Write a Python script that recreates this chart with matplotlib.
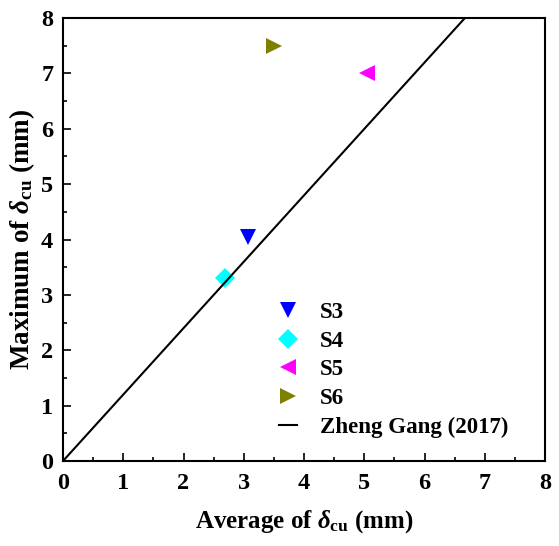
import matplotlib
matplotlib.use("Agg")
import matplotlib.pyplot as plt
from matplotlib.ticker import MultipleLocator

plt.rcParams['font.family'] = ['Liberation Serif', 'DejaVu Serif']
plt.rcParams['font.weight'] = 'bold'
plt.rcParams['mathtext.fontset'] = 'custom'
plt.rcParams['mathtext.rm'] = 'Liberation Serif:bold'
plt.rcParams['mathtext.it'] = 'Liberation Serif:italic:bold'
plt.rcParams['mathtext.bf'] = 'Liberation Serif:bold'

series = ['S3', 'S4', 'S5', 'S6']
avg = [3.07, 2.69, 5.05, 3.50]
maxv = [4.05, 3.31, 7.01, 7.50]
markers = ['v', 'D', '<', '>']
colors = ['#0000ff', '#00ffff', '#ff00ff', '#808000']
msizes = [12, 10.5, 12, 12]

line_x = [0, 6.67]
line_y = [0, 8.0]
line_label = 'Zheng Gang (2017)'

fig = plt.figure(figsize=(5.59, 5.46), dpi=100)
ax = fig.add_axes([0.1127, 0.1557, 0.975 - 0.1127, 0.967 - 0.1557])

for s, x, y, m, c, ms in zip(series, avg, maxv, markers, colors, msizes):
    ax.plot([x], [y], linestyle='none', marker=m, color=c, markersize=ms,
            markeredgewidth=0, label=s)
ax.plot(line_x, line_y, color='black', linewidth=1.5, label=line_label)

ax.set_xlim(0, 8)
ax.set_ylim(0, 8)
ax.xaxis.set_major_locator(MultipleLocator(1))
ax.xaxis.set_minor_locator(MultipleLocator(0.5))
ax.yaxis.set_major_locator(MultipleLocator(1))
ax.yaxis.set_minor_locator(MultipleLocator(0.5))
ax.tick_params(which='both', direction='in', width=1.2)
ax.tick_params(which='major', length=6, labelsize=17.5)
ax.tick_params(axis='x', which='major', pad=9)
ax.tick_params(axis='y', which='major', pad=7)
ax.tick_params(which='minor', length=3)
for sp in ax.spines.values():
    sp.set_linewidth(1.5)
for lab in ax.get_xticklabels() + ax.get_yticklabels():
    lab.set_fontweight('bold')

ax.set_xlabel(r'Average of $\delta_{\mathrm{cu}}$ (mm)', fontsize=18, fontweight='bold', labelpad=10)
ax.set_ylabel(r'Maximum of $\delta_{\mathrm{cu}}$ (mm)', fontsize=19.5, fontweight='bold', labelpad=3)

leg = ax.legend(loc='upper left', bbox_to_anchor=(0.448, 0.359), frameon=False,
                borderpad=0, borderaxespad=0,
                prop={'family': 'Liberation Serif', 'weight': 'bold', 'size': 16.5},
                handlelength=0.8, handletextpad=1.0, labelspacing=0.33)

fig.savefig('out.png', dpi=100)
